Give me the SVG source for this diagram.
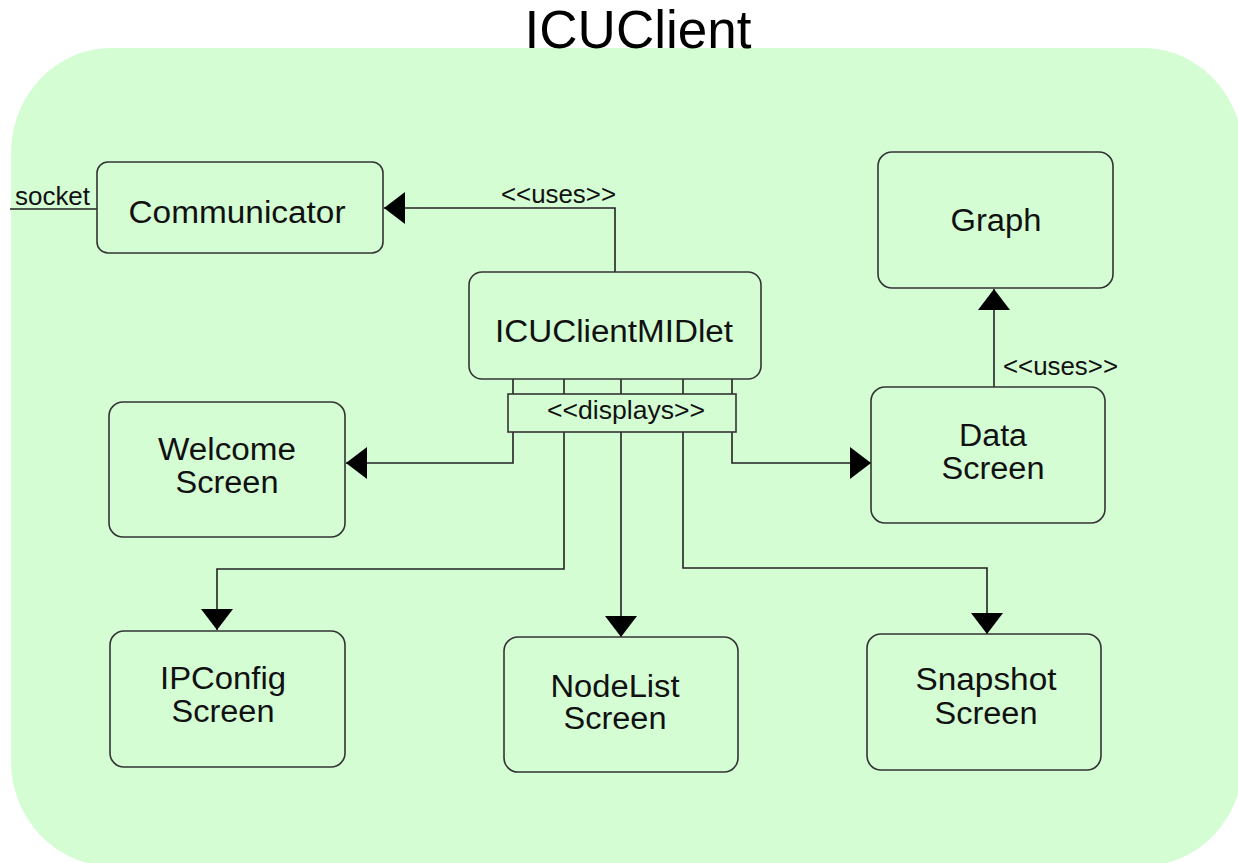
<svg xmlns="http://www.w3.org/2000/svg" width="1238" height="863" viewBox="0 0 1238 863">
<style>
.box{fill:#d4fdd4;stroke:#333;stroke-width:1.6}
.lbl{font-family:"Liberation Sans",Arial,sans-serif;font-size:31px;fill:#111;text-anchor:middle}
.small{font-family:"Liberation Sans",Arial,sans-serif;font-size:25px;fill:#111}
.conn{fill:none;stroke:#222;stroke-width:1.6}
</style>
<defs>
<marker id="arr" markerUnits="userSpaceOnUse" markerWidth="22" markerHeight="34" refX="21" refY="16" orient="auto" viewBox="0 0 22 32">
<path d="M0,0 L21,16 L0,32 z" fill="#000"/>
</marker>
</defs>
<rect width="1238" height="863" fill="#fff"/>
<rect x="11" y="48" width="1232" height="818" rx="100" ry="105" fill="#d4fdd4"/>
<text x="638" y="48" font-family="'Liberation Sans',Arial,sans-serif" font-size="53" text-anchor="middle" fill="#000">ICUClient</text>

<g id="connectors">
<path class="conn" d="M615,272 V208 H384" marker-end="url(#arr)"/>
<path class="conn" d="M994,387 V289" marker-end="url(#arr)"/>
<path class="conn" d="M10,209 H97"/>
<path class="conn" d="M513,379 V394 M564,379 V394 M621,379 V394 M683,379 V394 M732,379 V394"/>
<path class="conn" d="M513,432 V463 H346" marker-end="url(#arr)"/>
<path class="conn" d="M564,432 V569 H217 V630" marker-end="url(#arr)"/>
<path class="conn" d="M621,432 V637" marker-end="url(#arr)"/>
<path class="conn" d="M683,432 V568 H987 V634" marker-end="url(#arr)"/>
<path class="conn" d="M732,432 V463 H871" marker-end="url(#arr)"/>
<rect class="box" x="508" y="394" width="228" height="38"/>
<text class="small" x="547" y="419" textLength="158" lengthAdjust="spacingAndGlyphs">&lt;&lt;displays&gt;&gt;</text>
<text class="small" x="501" y="203" textLength="115" lengthAdjust="spacingAndGlyphs">&lt;&lt;uses&gt;&gt;</text>
<text class="small" x="1003" y="375" textLength="115" lengthAdjust="spacingAndGlyphs">&lt;&lt;uses&gt;&gt;</text>
<text class="small" x="15" y="205" font-size="24" textLength="75" lengthAdjust="spacingAndGlyphs">socket</text>
</g>

<g id="communicator">
<rect class="box" x="97" y="162" width="286" height="91" rx="11"/>
<text class="lbl" x="237" y="223" textLength="217" lengthAdjust="spacingAndGlyphs">Communicator</text>
</g>
<g id="icuclientmidlet">
<rect class="box" x="469" y="272" width="292" height="107" rx="13"/>
<text class="lbl" x="614" y="342" textLength="238" lengthAdjust="spacingAndGlyphs">ICUClientMIDlet</text>
</g>
<g id="graph">
<rect class="box" x="878" y="152" width="235" height="136" rx="14"/>
<text class="lbl" x="996" y="231" textLength="91" lengthAdjust="spacingAndGlyphs">Graph</text>
</g>
<g id="welcome-screen">
<rect class="box" x="109" y="402" width="236" height="135" rx="14"/>
<text class="lbl" x="227" y="460" textLength="138" lengthAdjust="spacingAndGlyphs">Welcome</text>
<text class="lbl" x="227" y="493" textLength="103" lengthAdjust="spacingAndGlyphs">Screen</text>
</g>
<g id="data-screen">
<rect class="box" x="871" y="387" width="234" height="136" rx="14"/>
<text class="lbl" x="993" y="446" textLength="68" lengthAdjust="spacingAndGlyphs">Data</text>
<text class="lbl" x="993" y="479" textLength="103" lengthAdjust="spacingAndGlyphs">Screen</text>
</g>
<g id="ipconfig-screen">
<rect class="box" x="110" y="631" width="235" height="136" rx="14"/>
<text class="lbl" x="223" y="689" textLength="126" lengthAdjust="spacingAndGlyphs">IPConfig</text>
<text class="lbl" x="223" y="722" textLength="103" lengthAdjust="spacingAndGlyphs">Screen</text>
</g>
<g id="nodelist-screen">
<rect class="box" x="504" y="637" width="234" height="135" rx="14"/>
<text class="lbl" x="615" y="697" textLength="129" lengthAdjust="spacingAndGlyphs">NodeList</text>
<text class="lbl" x="615" y="729" textLength="103" lengthAdjust="spacingAndGlyphs">Screen</text>
</g>
<g id="snapshot-screen">
<rect class="box" x="867" y="634" width="234" height="136" rx="14"/>
<text class="lbl" x="986" y="690" textLength="141" lengthAdjust="spacingAndGlyphs">Snapshot</text>
<text class="lbl" x="986" y="724" textLength="103" lengthAdjust="spacingAndGlyphs">Screen</text>
</g>
</svg>
